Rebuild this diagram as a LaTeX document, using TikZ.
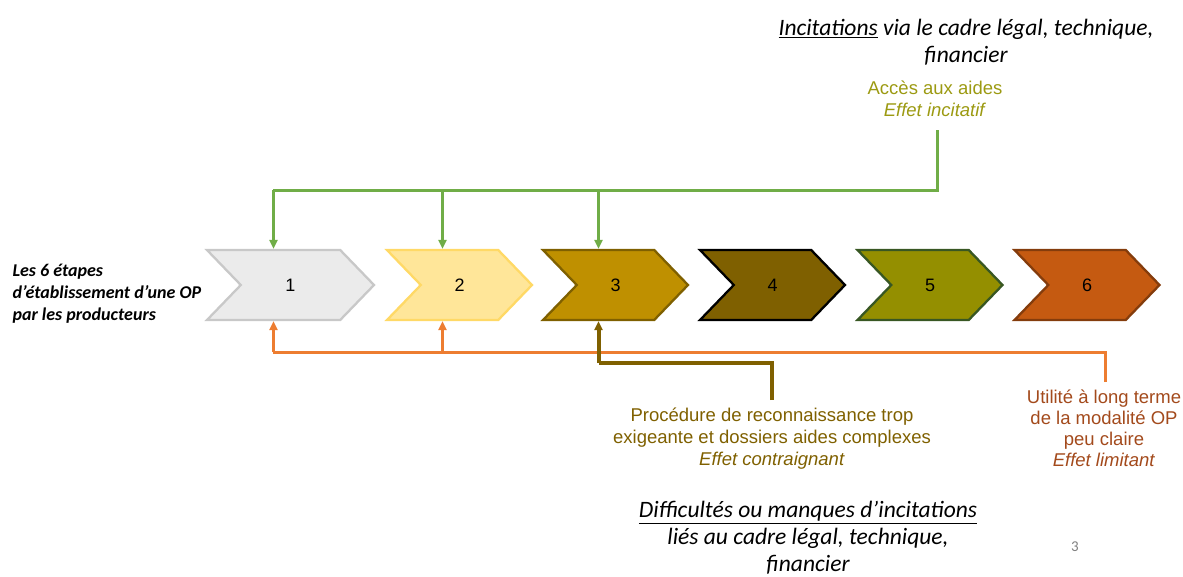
\documentclass[tikz,border=0pt]{standalone}
\usepackage{fontspec}
\setmainfont{Liberation Sans}
\newfontfamily\calib{Carlito}
\usetikzlibrary{shapes.symbols,arrows.meta}

\definecolor{grisetape}{HTML}{EBEBEB}
\definecolor{grisbord}{HTML}{C8C8C8}
\definecolor{jauneetape}{HTML}{FFE699}
\definecolor{jaunebord}{HTML}{FFD966}
\definecolor{orfonce}{HTML}{BF9000}
\definecolor{brun}{HTML}{7F6000}
\definecolor{olive}{HTML}{948F00}
\definecolor{vertbord}{HTML}{385723}
\definecolor{rouille}{HTML}{C55A11}
\definecolor{rouillebord}{HTML}{843C0C}
\definecolor{vertfleche}{HTML}{70AD47}
\definecolor{orangefleche}{HTML}{ED7D31}
\definecolor{texteolive}{HTML}{9C9A12}
\definecolor{texterouille}{HTML}{A34A1C}

\begin{document}
\begin{tikzpicture}[x=1pt,y=-1pt,
  etape/.style={signal, signal from=west, signal to=east, signal pointer angle=92,
    minimum width=145pt, minimum height=70pt, inner sep=0pt, line width=2.3pt,
    font=\fontsize{18}{20}\selectfont},
  incit/.style={draw=vertfleche, line width=3pt},
  limite/.style={draw=orangefleche, line width=3pt},
  contrainte/.style={draw=brun, line width=4pt},
  pointe/.style={-{Triangle[length=9pt,width=8pt]}},
  titre/.style={font=\calib\itshape\fontsize{23.5}{27}\selectfont, align=center},
  effet/.style={font=\fontsize{18.5}{22}\selectfont, align=center}]

\useasboundingbox (0,0) rectangle (1183,576);

% Define the six steps
\node[etape, minimum width=167pt, fill=grisetape, draw=grisbord] (e1) at (290.5,285) {1};
\node[etape, fill=jauneetape, draw=jaunebord] (e2) at (459.5,285) {2};
\node[etape, fill=orfonce, draw=brun] (e3) at (615.5,285) {3};
\node[etape, fill=brun, draw=black] (e4) at (772.5,285) {4};
\node[etape, fill=olive, draw=vertbord] (e5) at (930,285) {5};
\node[etape, fill=rouille, draw=rouillebord] (e6) at (1087,285) {6};

% Left label
\node[anchor=west, align=left, font=\calib\bfseries\itshape\fontsize{18}{22}\selectfont] (lib) at (9,294)
  {Les 6 étapes\\d’établissement d’une OP\\par les producteurs};

% Top texts
\node[titre] (haut) at (966,42) {\underline{Incitations} via le cadre légal, technique,\\financier};
\node[effet, text=texteolive] (acces) at (935,99) {Accès aux aides\\\textit{Effet incitatif}};

% Bottom texts
\node[effet, text=brun] (proc) at (772,439)
  {Procédure de reconnaissance trop\\exigeante et dossiers aides complexes\\\textit{Effet contraignant}};
\node[effet, text=texterouille, font=\fontsize{18.5}{21}\selectfont] (util) at (1104,428)
  {Utilité à long terme\\de la modalité OP\\peu claire\\\textit{Effet limitant}};
\node[titre] (bas) at (808,538) {\underline{Difficultés ou manques d’incitations}\\liés au cadre légal, technique,\\financier};
\node[text=gray, font=\calib\fontsize{15}{17}\selectfont] (page) at (1075,547) {3};

% Anchor points of the arrows
\coordinate (p1) at ([xshift=-17pt]e1.north);
\coordinate (p2) at ([xshift=-17pt]e2.north);
\coordinate (p3) at ([xshift=-17pt]e3.north);
\coordinate (q1) at ([xshift=-17pt]e1.south);
\coordinate (q2) at ([xshift=-17pt]e2.south);
\coordinate (q3) at ([xshift=-17pt]e3.south);
\coordinate (gtop) at (937,130);
\coordinate (gbar) at (273,190);
\coordinate (otop) at (1105,382);
\coordinate (obar) at (273,352);
\coordinate (btop) at (772,400);
\coordinate (bbar) at (599,363);

% Incitations (green)
\draw[incit] (gtop) |- (gbar);
\draw[incit, pointe] (p1 |- gbar) -- (p1);
\draw[incit, pointe] (p2 |- gbar) -- (p2);
\draw[incit, pointe] (p3 |- gbar) -- (p3);

% Effet limitant (orange)
\draw[limite] (otop) |- (obar);
\draw[limite, pointe] (q1 |- obar) -- (q1);
\draw[limite, pointe] (q2 |- obar) -- (q2);

% Effet contraignant (brown)
\draw[contrainte] (btop) |- (bbar);
\draw[contrainte, pointe] (q3 |- bbar) -- (q3);

\end{tikzpicture}
\end{document}
